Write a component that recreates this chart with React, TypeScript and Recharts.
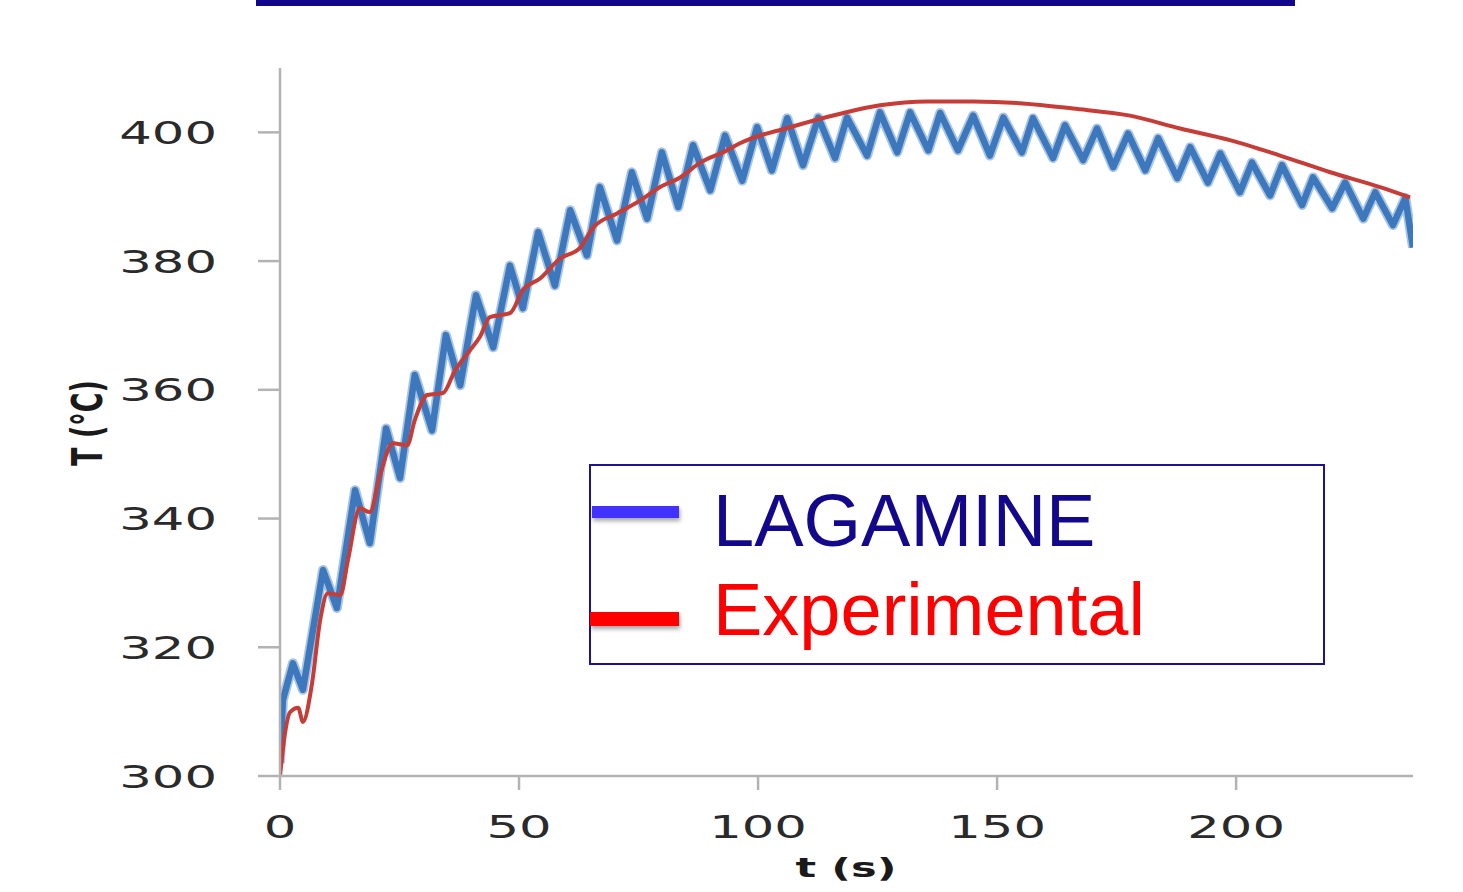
import React from "react";
import { LineChart, Line, XAxis, YAxis } from "recharts";

// LAGAMINE (simulation) – time (s) and temperature (°C)
const lagamineTimes = [
  0, 0.6, 2.7, 4.8, 9.0, 11.9, 15.7, 18.8, 22.2, 25.1, 28.2, 31.8, 34.7, 37.7, 41.0, 44.6,
  48.1, 50.8, 54.0, 57.5, 60.7, 64.2, 66.9, 70.5, 73.6, 76.8, 79.9, 83.3, 86.4, 90.0,
  93.1, 96.7, 99.8, 102.9, 106.1, 109.4, 112.6, 116.1, 118.6, 122.8, 125.5, 129.1,
  131.8, 135.6, 138.1, 141.8, 145.0, 148.5, 151.3, 155.2, 157.5, 161.7, 164.2, 168.0,
  170.9, 174.3, 177.4, 181.0, 183.7, 187.7, 190.4, 194.1, 196.7, 200.8, 203.3, 207.1,
  209.6, 213.8, 216.1, 220.1, 222.8, 226.6, 229.1, 232.8, 235.4, 237.0,
];
const lagamineTemps = [
  302, 311.8, 317.5, 313.4, 332.0, 326.1, 344.4, 336.2, 354.0, 346.3, 362.3, 353.7, 368.5,
  360.7, 374.7, 366.6, 379.3, 372.7, 384.5, 376.2, 387.9, 380.9, 391.5, 383.2, 393.8,
  386.6, 396.9, 388.4, 398.0, 391.0, 399.5, 392.5, 400.8, 394.1, 402.2, 394.9, 402.3,
  396.0, 402.3, 396.4, 403.1, 396.9, 403.1, 397.2, 403.0, 397.2, 402.6, 396.4, 402.3,
  396.9, 402.2, 396.0, 401.1, 395.7, 400.6, 394.6, 399.8, 394.1, 399.1, 392.9, 397.7,
  392.2, 396.7, 390.7, 395.3, 390.2, 394.9, 388.7, 393.0, 388.2, 392.2, 386.6, 390.7,
  385.6, 389.8, 382.1,
];

// Experimental – time (s) and temperature (°C)
const experimentalTimes = [
  0, 1.0, 2.1, 3.8, 4.8, 6.7, 8.4, 10.0, 12.6, 14.2, 16.7, 18.8, 20.9, 23.6, 26.6, 28.2,
  30.8, 34.1, 36.6, 39.7, 41.8, 43.9, 48.1, 50.8, 54.4, 58.6, 62.8, 65.5, 70.5, 75.3,
  79.5, 83.7, 87.9, 93.5, 96.2, 106.7, 117.2, 125.5, 135.4, 145.0, 155.4, 165.9, 177.8,
  188.3, 198.7, 209.2, 219.7, 230.1, 236.4,
];
const experimentalTemps = [
  300, 306.4, 309.9, 310.6, 308.4, 314.4, 324.2, 328.4, 328.1, 333.5, 341.6, 341.0, 346.7,
  351.7, 351.4, 355.3, 359.2, 359.5, 363.0, 366.1, 368.2, 371.3, 371.9, 375.5, 377.3,
  380.4, 382.1, 385.2, 387.4, 389.4, 391.5, 393.0, 395.3, 397.2, 398.3, 400.8, 402.9,
  404.2, 404.8, 404.8, 404.5, 403.7, 402.6, 400.6, 398.8, 396.4, 393.8, 391.5, 389.9,
];

const xTicks = [0, 50, 100, 150, 200];
const yTicks = [300, 320, 340, 360, 380, 400];
const seriesNames = ["LAGAMINE", "Experimental"];

const lagamineData = lagamineTimes.map((t, i) => ({ t, T: lagamineTemps[i] }));
const experimentalData = experimentalTimes.map((t, i) => ({ t, T: experimentalTemps[i] }));

const AXIS = "#b3b3b3";
const STRETCH = 1.6;

const XTick = (props: any) => {
  const { x, y, payload } = props;
  return (
    <g transform={`translate(${x},${y}) scale(${STRETCH},1)`}>
      <text x={0} y={0} dy="0.72em" textAnchor="middle" fill="#2a2a2a"
        fontFamily="DejaVu Sans" fontSize={32}>{payload.value}</text>
    </g>
  );
};

const YTick = (props: any) => {
  const { x, y, payload } = props;
  return (
    <g transform={`translate(${x},${y}) scale(${STRETCH},1)`}>
      <text x={0} y={0} dy="0.36em" textAnchor="end" fill="#2a2a2a"
        fontFamily="DejaVu Sans" fontSize={32}>{payload.value}</text>
    </g>
  );
};

const XTitle = () => (
  <g transform={`translate(846,867) scale(${STRETCH},1)`}>
    <text x={0} y={0} dy="0.36em" textAnchor="middle" fill="#1a1a1a"
      fontFamily="DejaVu Sans" fontWeight="bold" fontSize={27}>t (s)</text>
  </g>
);

const YTitle = () => (
  <g transform={`translate(86,423) scale(${STRETCH},1) rotate(-90)`}>
    <text x={0} y={0} dy="0.36em" textAnchor="middle" fill="#1a1a1a"
      fontFamily="DejaVu Sans" fontWeight="bold" fontSize={27}>T (°C)</text>
  </g>
);

const LegendBox = () => (
  <svg width={737} height={202} style={{ display: "block" }}>
    <defs>
      <filter id="sh" x="-20%" y="-100%" width="140%" height="300%">
        <feDropShadow dx="1" dy="3" stdDeviation="2" floodColor="#000" floodOpacity="0.35" />
      </filter>
    </defs>
    <rect x={1} y={1} width={734} height={199} fill="#fff" stroke="#1d1294" strokeWidth={2} />
    <rect x={3} y={42} width={87} height={12} fill="#4330ff" filter="url(#sh)" />
    <rect x={1} y={148} width={89} height={14} fill="#ff0000" filter="url(#sh)" />
    <text x={124} y={82} fill="#13088c" fontFamily="Liberation Sans" fontSize={74}>{seriesNames[0]}</text>
    <text x={124} y={171} fill="#ff0000" fontFamily="Liberation Sans" fontSize={74}>{seriesNames[1]}</text>
  </svg>
);

export default function App() {
  return (
    <div style={{ position: "absolute", left: 0, top: 0, width: 1463, height: 892, background: "#fff" }}>
      <div style={{ position: "absolute", left: 256, top: 0, width: 1039, height: 6, background: "#12078a" }} />
      <LineChart width={1463} height={892} margin={{ top: 68, right: 50, bottom: 0, left: 0 }}>
        <XAxis
          type="number"
          dataKey="t"
          domain={[0, 237]}
          ticks={xTicks}
          allowDataOverflow
          height={116}
          axisLine={{ stroke: AXIS, strokeWidth: 2.5 }}
          tickLine={{ stroke: AXIS, strokeWidth: 2.5 }}
          tickSize={14}
          tickMargin={25}
          tick={<XTick />}
          label={<XTitle />}
        />
        <YAxis
          type="number"
          dataKey="T"
          domain={[300, 410]}
          ticks={yTicks}
          allowDataOverflow
          width={280}
          axisLine={{ stroke: AXIS, strokeWidth: 2.5 }}
          tickLine={{ stroke: AXIS, strokeWidth: 2.5 }}
          tickSize={22}
          tickMargin={41}
          tick={<YTick />}
          label={<YTitle />}
        />
        <Line data={lagamineData} dataKey="T" type="linear" stroke="#a9c5e6" strokeWidth={10}
          dot={false} isAnimationActive={false} legendType="none" strokeLinejoin="round" />
        <Line data={lagamineData} dataKey="T" type="linear" stroke="#3d78bd" strokeWidth={6.5}
          dot={false} isAnimationActive={false} name={seriesNames[0]} strokeLinejoin="round" />
        <Line data={experimentalData} dataKey="T" type="monotone" stroke="#c63c36" strokeWidth={4}
          dot={false} isAnimationActive={false} name={seriesNames[1]} />
      </LineChart>
      <div style={{ position: "absolute", left: 589, top: 464, width: 737, height: 202 }}>
        <LegendBox />
      </div>
    </div>
  );
}
